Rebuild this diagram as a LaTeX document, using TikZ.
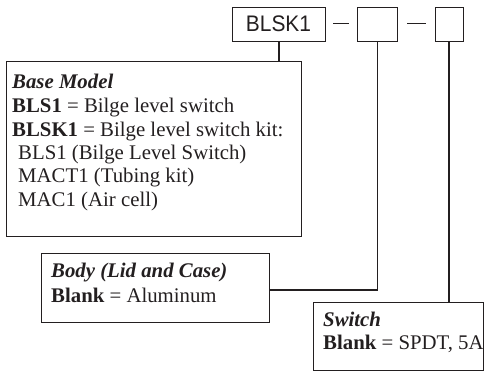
\documentclass[tikz,border=0pt]{standalone}
\usepackage{fontspec}
\setmainfont{Liberation Serif}
\newfontfamily\codefont[FakeStretch=0.93]{Liberation Sans}
\definecolor{ink}{HTML}{231F20}
\tikzset{
  box/.style={draw=ink, line width=1pt},
  conn/.style={draw=ink, line width=1.4pt},
  dashmark/.style={draw=ink, line width=1.8pt},
  txt/.style={anchor=base west, inner sep=0pt, text=ink, font=\fontsize{20.8}{24}\selectfont},
  code/.style={anchor=base, inner sep=0pt, text=ink, font=\codefont\fontsize{22.5}{26}\selectfont}
}
\begin{document}
\begin{tikzpicture}[x=1pt,y=-1pt]
\useasboundingbox (0,0) rectangle (497,373);
% top code boxes
\node[box, minimum width=93pt, minimum height=34pt, anchor=north west, inner sep=0pt] (b1) at (232,7) {};
\node[code] (b1t) at (278.5,31.7) {BLSK1};
\coordinate (d1a) at (333,23.5); \coordinate (d1b) at (349,23.5);
\draw[dashmark] (d1a) -- (d1b);
\node[box, minimum width=40pt, minimum height=34pt, anchor=north west, inner sep=0pt] (b2) at (357,7) {};
\coordinate (d2a) at (407,23.5); \coordinate (d2b) at (426,23.5);
\draw[dashmark] (d2a) -- (d2b);
\node[box, minimum width=28pt, minimum height=34pt, anchor=north west, inner sep=0pt] (b3) at (435,7) {};
% base model box
\node[box, minimum width=295pt, minimum height=175pt, anchor=north west, inner sep=0pt] (base) at (6,61) {};
\node[txt] (l1) at (12,88) {\textbf{\textit{Base Model}}};
\node[txt] (l2) at (12,112) {\textbf{BLS1} = Bilge level switch};
\node[txt] (l3) at (12,136) {\textbf{BLSK1} = Bilge level switch kit:};
\node[txt] (l4) at (18,159) {BLS1 (Bilge Level Switch)};
\node[txt] (l5) at (18,182) {MACT1 (Tubing kit)};
\node[txt] (l6) at (18,206) {MAC1 (Air cell)};
% body box
\node[box, minimum width=228pt, minimum height=69pt, anchor=north west, inner sep=0pt] (body) at (41,253) {};
\node[txt] (m1) at (51,277) {\textbf{\textit{Body (Lid and Case)}}};
\node[txt] (m2) at (51,302) {\textbf{Blank} = Aluminum};
% switch box
\node[box, minimum width=170pt, minimum height=68pt, anchor=north west, inner sep=0pt] (sw) at (313,302) {};
\node[txt] (s1) at (323,326) {\textbf{\textit{Switch}}};
\node[txt] (s2) at (323,349) {\textbf{Blank} = SPDT, 5A};
% connectors
\draw[conn] (b1.south -| 279,0) -- (base.north -| 279,0);
\coordinate (bodyc) at (body.east |- 0,290);
\draw[conn] (b2.south) |- (bodyc);
\draw[conn] (b3.south -| 449,0) -- (sw.north -| 449,0);
\end{tikzpicture}
\end{document}
